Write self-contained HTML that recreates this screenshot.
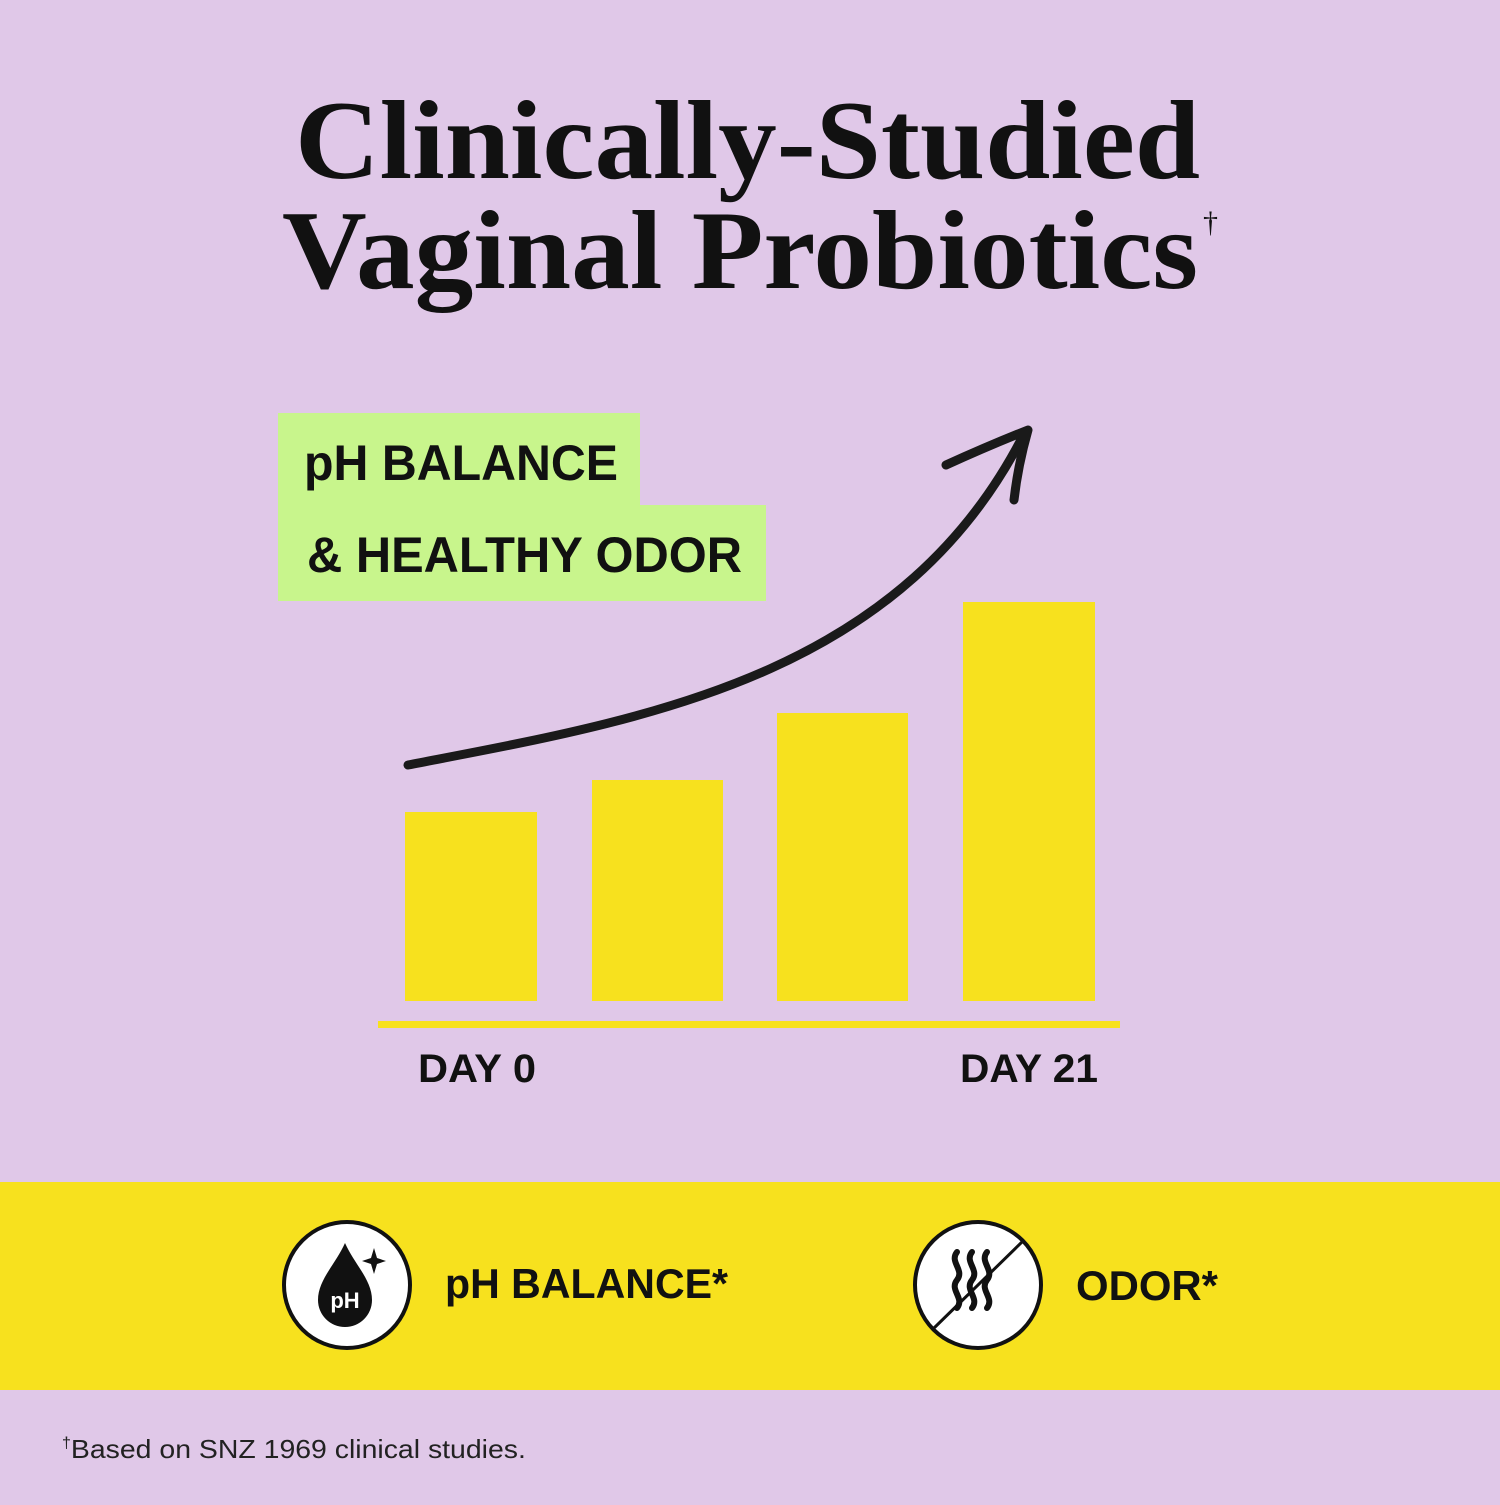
<!DOCTYPE html>
<html><head><style>html,body{margin:0;padding:0;background:#E0C8E8}</style></head>
<body>
<svg width="1500" height="1500" viewBox="0 0 1500 1500" xmlns="http://www.w3.org/2000/svg">
<rect width="1500" height="1500" fill="#E0C8E8"/>
<g font-family="Liberation Serif, serif" font-weight="bold" fill="#111">
<text x="295" y="178" font-size="112" textLength="905" lengthAdjust="spacingAndGlyphs">Clinically-Studied</text>
<text x="282" y="288" font-size="112" textLength="916" lengthAdjust="spacingAndGlyphs">Vaginal Probiotics</text>
<text x="1203" y="232" font-size="30" font-weight="normal">†</text>
</g>
<rect x="278" y="413" width="362" height="95" fill="#C8F58C"/>
<rect x="278" y="505" width="488" height="96" fill="#C8F58C"/>
<g font-family="Liberation Sans, sans-serif" font-weight="bold" fill="#111">
<text x="304" y="480" font-size="50" textLength="314" lengthAdjust="spacingAndGlyphs">pH BALANCE</text>
<text x="307" y="572" font-size="50" textLength="435" lengthAdjust="spacingAndGlyphs">&amp; HEALTHY ODOR</text>
<text x="418" y="1082" font-size="40" textLength="118" lengthAdjust="spacingAndGlyphs">DAY 0</text>
<text x="960" y="1082" font-size="40" textLength="138" lengthAdjust="spacingAndGlyphs">DAY 21</text>
</g>
<g fill="#F7E11E">
<rect x="405" y="812" width="132" height="189"/>
<rect x="592" y="780" width="131" height="221"/>
<rect x="777" y="713" width="131" height="288"/>
<rect x="963" y="602" width="132" height="399"/>
<rect x="378" y="1021" width="742" height="7"/>
<rect x="0" y="1182" width="1500" height="208"/>
</g>
<path d="M408,765 C 640,720 900,680 1025,432" fill="none" stroke="#1a1a1a" stroke-width="9" stroke-linecap="round"/>
<path d="M946,465 Q 990,445 1028,430 Q 1018,465 1014,500" fill="none" stroke="#1a1a1a" stroke-width="9" stroke-linecap="round" stroke-linejoin="round"/>
<circle cx="347" cy="1285" r="63" fill="#fff" stroke="#111" stroke-width="4"/>
<path d="M345,1243 C 335,1265 318,1280 318,1300 A 27 27 0 0 0 372,1300 C 372,1280 355,1265 345,1243 Z" fill="#111"/>
<text x="345" y="1308" font-family="Liberation Sans, sans-serif" font-weight="bold" font-size="22" fill="#fff" text-anchor="middle">pH</text>
<path d="M374,1248 L377,1258 L386,1261 L377,1264 L374,1274 L371,1264 L362,1261 L371,1258 Z" fill="#111"/>
<circle cx="978" cy="1285" r="63" fill="#fff" stroke="#111" stroke-width="4"/>
<g fill="none" stroke="#111" stroke-width="6" stroke-linecap="round">
<path d="M957,1252 c-8,10 8,18 0,28 c-8,10 8,18 0,28"/>
<path d="M972,1252 c-8,10 8,18 0,28 c-8,10 8,18 0,28"/>
<path d="M987,1252 c-8,10 8,18 0,28 c-8,10 8,18 0,28"/>
</g>
<line x1="932" y1="1330" x2="1024" y2="1240" stroke="#111" stroke-width="3"/>
<g font-family="Liberation Sans, sans-serif" font-weight="bold" fill="#111">
<text x="445" y="1298" font-size="42" textLength="283" lengthAdjust="spacingAndGlyphs">pH BALANCE*</text>
<text x="1076" y="1300" font-size="42" textLength="142" lengthAdjust="spacingAndGlyphs">ODOR*</text>
</g>
<text x="62" y="1458" font-family="Liberation Sans, sans-serif" font-size="26" fill="#222"><tspan font-size="16" dy="-10">†</tspan><tspan dy="10" textLength="455" lengthAdjust="spacingAndGlyphs">Based on SNZ 1969 clinical studies.</tspan></text>
</svg>
</body></html>
